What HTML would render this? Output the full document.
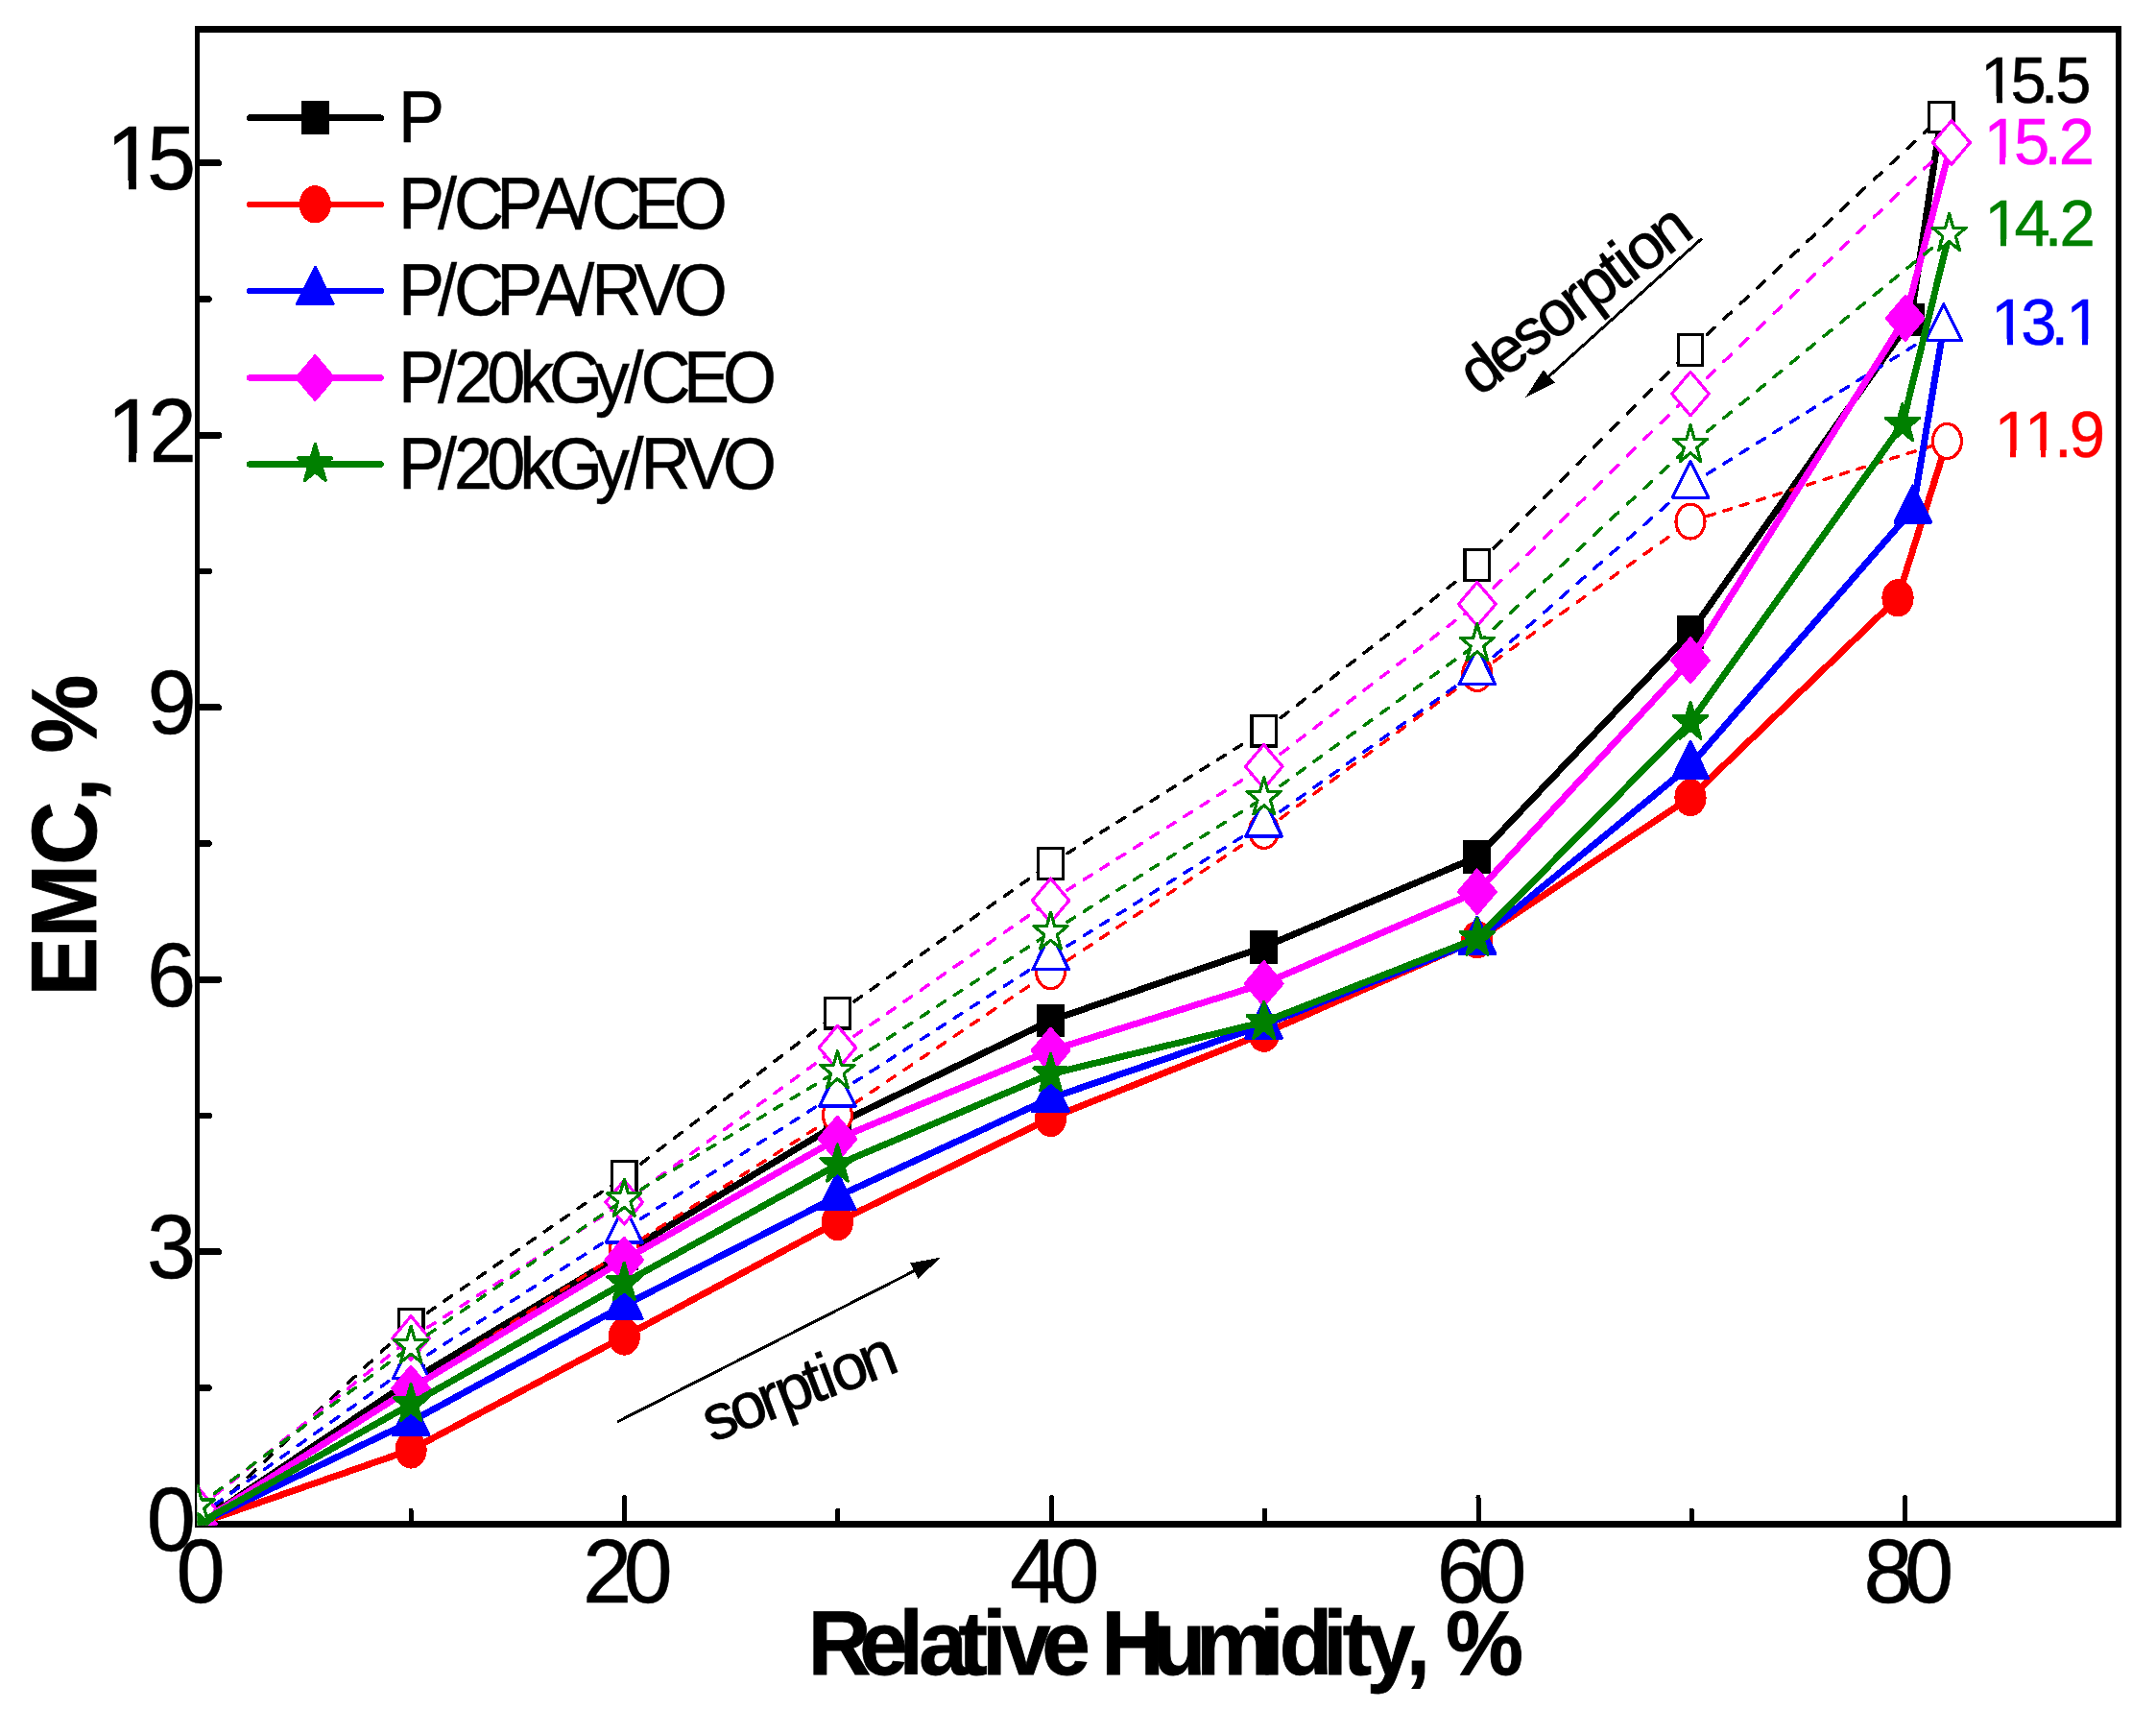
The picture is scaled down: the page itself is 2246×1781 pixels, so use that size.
<!DOCTYPE html>
<html lang="en"><head><meta charset="utf-8"><title>EMC vs Relative Humidity</title>
<style>html,body{margin:0;padding:0;background:#fff}body{width:2246px;height:1781px;overflow:hidden}svg{display:block}text{white-space:pre}</style>
</head><body>
<svg shape-rendering="crispEdges" width="2246" height="1781" viewBox="0 0 2246 1781" font-family="'Liberation Sans', sans-serif">
<rect width="2246" height="1781" fill="#fff"/>
<defs><clipPath id="cp"><rect x="205.3" y="30.5" width="2001.7" height="1558.3"/></clipPath></defs>
<g stroke="#000" stroke-linecap="round" fill="none">
<path d="M205.6 27.1 V1590.7" stroke-width="4.8" stroke-linecap="butt"/>
<path d="M2207 27.1 V1590.7" stroke-width="5.4" stroke-linecap="butt"/>
<path d="M203.2 30.5 H2209.7" stroke-width="6.8" stroke-linecap="butt"/>
<path d="M203.2 1587.3 H2209.7" stroke-width="6.8" stroke-linecap="butt"/>
<path d="M207.6 1445.55 H217.6" stroke-width="6.8"/>
<path d="M207.6 1303.8 H227.8" stroke-width="6.8"/>
<path d="M207.6 1162.05 H217.6" stroke-width="6.8"/>
<path d="M207.6 1020.3 H227.8" stroke-width="6.8"/>
<path d="M207.6 878.55 H217.6" stroke-width="6.8"/>
<path d="M207.6 736.8 H227.8" stroke-width="6.8"/>
<path d="M207.6 595.05 H217.6" stroke-width="6.8"/>
<path d="M207.6 453.3 H227.8" stroke-width="6.8"/>
<path d="M207.6 311.55 H217.6" stroke-width="6.8"/>
<path d="M207.6 169.8 H227.8" stroke-width="6.8"/>
<path d="M428 1587.3 V1573" stroke-width="5"/>
<path d="M650.4 1587.3 V1559.5" stroke-width="5"/>
<path d="M872.8 1587.3 V1573" stroke-width="5"/>
<path d="M1095.2 1587.3 V1559.5" stroke-width="5"/>
<path d="M1317.6 1587.3 V1573" stroke-width="5"/>
<path d="M1540 1587.3 V1559.5" stroke-width="5"/>
<path d="M1762.4 1587.3 V1573" stroke-width="5"/>
<path d="M1984.8 1587.3 V1559.5" stroke-width="5"/>
</g>
<g clip-path="url(#cp)">
<polyline points="205.95,1587.3 428.1,1437.99 650.25,1305.22 872.4,1170.55 1094.55,1062.92 1316.7,986.28 1538.85,892.63 1761,658.84 1990.36,333.1 2022.2,122" fill="none" stroke="#000000" stroke-width="7" stroke-linejoin="round"/>
<rect x="193.15" y="1571.5" width="25.6" height="31.6" fill="#000000" stroke="#000000" stroke-width="3.2" stroke-linejoin="miter"/>
<rect x="415.3" y="1422.19" width="25.6" height="31.6" fill="#000000" stroke="#000000" stroke-width="3.2" stroke-linejoin="miter"/>
<rect x="637.45" y="1289.42" width="25.6" height="31.6" fill="#000000" stroke="#000000" stroke-width="3.2" stroke-linejoin="miter"/>
<rect x="859.6" y="1154.75" width="25.6" height="31.6" fill="#000000" stroke="#000000" stroke-width="3.2" stroke-linejoin="miter"/>
<rect x="1081.75" y="1047.12" width="25.6" height="31.6" fill="#000000" stroke="#000000" stroke-width="3.2" stroke-linejoin="miter"/>
<rect x="1303.9" y="970.48" width="25.6" height="31.6" fill="#000000" stroke="#000000" stroke-width="3.2" stroke-linejoin="miter"/>
<rect x="1526.05" y="876.83" width="25.6" height="31.6" fill="#000000" stroke="#000000" stroke-width="3.2" stroke-linejoin="miter"/>
<rect x="1748.2" y="643.04" width="25.6" height="31.6" fill="#000000" stroke="#000000" stroke-width="3.2" stroke-linejoin="miter"/>
<rect x="1977.56" y="317.3" width="25.6" height="31.6" fill="#000000" stroke="#000000" stroke-width="3.2" stroke-linejoin="miter"/>
<g fill="none" stroke="#000000" stroke-width="3.5" stroke-linecap="round">
<path d="M1761 364.66 L2022.2 122" stroke-dasharray="10.51 13.24"/>
<path d="M1538.85 588.53 L1761 364.66" stroke-dasharray="10.93 13.77"/>
<path d="M1316.7 761.28 L1538.85 588.53" stroke-dasharray="9.75 12.29"/>
<path d="M1094.55 899.53 L1316.7 761.28" stroke-dasharray="9.07 11.43"/>
<path d="M872.4 1055.26 L1094.55 899.53" stroke-dasharray="9.4 11.85"/>
<path d="M650.25 1225.37 L872.4 1055.26" stroke-dasharray="9.7 12.22"/>
<path d="M428.1 1379.12 L650.25 1225.37" stroke-dasharray="9.36 11.8"/>
<path d="M205.95 1587.3 L428.1 1379.12" stroke-dasharray="10.55 13.29"/>
</g>
<rect x="2009.4" y="106.2" width="25.6" height="31.6" fill="#fff" stroke="#000000" stroke-width="3.2" stroke-linejoin="miter"/>
<rect x="1748.2" y="348.86" width="25.6" height="31.6" fill="#fff" stroke="#000000" stroke-width="3.2" stroke-linejoin="miter"/>
<rect x="1526.05" y="572.73" width="25.6" height="31.6" fill="#fff" stroke="#000000" stroke-width="3.2" stroke-linejoin="miter"/>
<rect x="1303.9" y="745.48" width="25.6" height="31.6" fill="#fff" stroke="#000000" stroke-width="3.2" stroke-linejoin="miter"/>
<rect x="1081.75" y="883.73" width="25.6" height="31.6" fill="#fff" stroke="#000000" stroke-width="3.2" stroke-linejoin="miter"/>
<rect x="859.6" y="1039.46" width="25.6" height="31.6" fill="#fff" stroke="#000000" stroke-width="3.2" stroke-linejoin="miter"/>
<rect x="637.45" y="1209.57" width="25.6" height="31.6" fill="#fff" stroke="#000000" stroke-width="3.2" stroke-linejoin="miter"/>
<rect x="415.3" y="1363.32" width="25.6" height="31.6" fill="#fff" stroke="#000000" stroke-width="3.2" stroke-linejoin="miter"/>
<rect x="193.15" y="1571.5" width="25.6" height="31.6" fill="#fff" stroke="#000000" stroke-width="3.2" stroke-linejoin="miter"/>
<polyline points="205.95,1587.3 428.1,1510 650.25,1392.06 872.4,1272.62 1094.55,1164.51 1316.7,1076.24 1538.85,978.72 1761,830.64 1977.02,622.74 2028.4,459.5" fill="none" stroke="#ff0000" stroke-width="7" stroke-linejoin="round"/>
<ellipse cx="205.95" cy="1587.3" rx="15" ry="18" fill="#ff0000" stroke="#ff0000" stroke-width="3.2" stroke-linejoin="round"/>
<ellipse cx="428.1" cy="1510" rx="15" ry="18" fill="#ff0000" stroke="#ff0000" stroke-width="3.2" stroke-linejoin="round"/>
<ellipse cx="650.25" cy="1392.06" rx="15" ry="18" fill="#ff0000" stroke="#ff0000" stroke-width="3.2" stroke-linejoin="round"/>
<ellipse cx="872.4" cy="1272.62" rx="15" ry="18" fill="#ff0000" stroke="#ff0000" stroke-width="3.2" stroke-linejoin="round"/>
<ellipse cx="1094.55" cy="1164.51" rx="15" ry="18" fill="#ff0000" stroke="#ff0000" stroke-width="3.2" stroke-linejoin="round"/>
<ellipse cx="1316.7" cy="1076.24" rx="15" ry="18" fill="#ff0000" stroke="#ff0000" stroke-width="3.2" stroke-linejoin="round"/>
<ellipse cx="1538.85" cy="978.72" rx="15" ry="18" fill="#ff0000" stroke="#ff0000" stroke-width="3.2" stroke-linejoin="round"/>
<ellipse cx="1761" cy="830.64" rx="15" ry="18" fill="#ff0000" stroke="#ff0000" stroke-width="3.2" stroke-linejoin="round"/>
<ellipse cx="1977.02" cy="622.74" rx="15" ry="18" fill="#ff0000" stroke="#ff0000" stroke-width="3.2" stroke-linejoin="round"/>
<g fill="none" stroke="#ff0000" stroke-width="3.5" stroke-linecap="round">
<path d="M1761 543.07 L2028.4 459.5" stroke-dasharray="8.07 10.16"/>
<path d="M1538.85 701.46 L1761 543.07" stroke-dasharray="9.46 11.91"/>
<path d="M1316.7 865.32 L1538.85 701.46" stroke-dasharray="9.57 12.05"/>
<path d="M1094.55 1011.79 L1316.7 865.32" stroke-dasharray="9.22 11.62"/>
<path d="M872.4 1161.11 L1094.55 1011.79" stroke-dasharray="9.28 11.69"/>
<path d="M650.25 1301.91 L872.4 1161.11" stroke-dasharray="9.12 11.48"/>
<path d="M428.1 1445.83 L650.25 1301.91" stroke-dasharray="9.17 11.56"/>
<path d="M205.95 1584.46 L428.1 1445.83" stroke-dasharray="9.08 11.43"/>
</g>
<ellipse cx="2028.4" cy="459.5" rx="15" ry="18" fill="#fff" stroke="#ff0000" stroke-width="3.2" stroke-linejoin="round"/>
<ellipse cx="1761" cy="543.07" rx="15" ry="18" fill="#fff" stroke="#ff0000" stroke-width="3.2" stroke-linejoin="round"/>
<ellipse cx="1538.85" cy="701.46" rx="15" ry="18" fill="#fff" stroke="#ff0000" stroke-width="3.2" stroke-linejoin="round"/>
<ellipse cx="1316.7" cy="865.32" rx="15" ry="18" fill="#fff" stroke="#ff0000" stroke-width="3.2" stroke-linejoin="round"/>
<ellipse cx="1094.55" cy="1011.79" rx="15" ry="18" fill="#fff" stroke="#ff0000" stroke-width="3.2" stroke-linejoin="round"/>
<ellipse cx="872.4" cy="1161.11" rx="15" ry="18" fill="#fff" stroke="#ff0000" stroke-width="3.2" stroke-linejoin="round"/>
<ellipse cx="650.25" cy="1301.91" rx="15" ry="18" fill="#fff" stroke="#ff0000" stroke-width="3.2" stroke-linejoin="round"/>
<ellipse cx="428.1" cy="1445.83" rx="15" ry="18" fill="#fff" stroke="#ff0000" stroke-width="3.2" stroke-linejoin="round"/>
<ellipse cx="205.95" cy="1584.46" rx="15" ry="18" fill="#fff" stroke="#ff0000" stroke-width="3.2" stroke-linejoin="round"/>
<polyline points="205.95,1587.3 428.1,1480.61 650.25,1359.55 872.4,1246.15 1094.55,1143.81 1316.7,1067.55 1538.85,979.66 1761,797.19 1992.81,530.51 2024.7,341.1" fill="none" stroke="#0000ff" stroke-width="7" stroke-linejoin="round"/>
<polygon points="205.95,1562.9 224.75,1600.9 187.15,1600.9" fill="#0000ff" stroke="#0000ff" stroke-width="3.2" stroke-linejoin="round"/>
<polygon points="428.1,1456.21 446.9,1494.21 409.3,1494.21" fill="#0000ff" stroke="#0000ff" stroke-width="3.2" stroke-linejoin="round"/>
<polygon points="650.25,1335.15 669.05,1373.15 631.45,1373.15" fill="#0000ff" stroke="#0000ff" stroke-width="3.2" stroke-linejoin="round"/>
<polygon points="872.4,1221.75 891.2,1259.75 853.6,1259.75" fill="#0000ff" stroke="#0000ff" stroke-width="3.2" stroke-linejoin="round"/>
<polygon points="1094.55,1119.41 1113.35,1157.41 1075.75,1157.41" fill="#0000ff" stroke="#0000ff" stroke-width="3.2" stroke-linejoin="round"/>
<polygon points="1316.7,1043.15 1335.5,1081.15 1297.9,1081.15" fill="#0000ff" stroke="#0000ff" stroke-width="3.2" stroke-linejoin="round"/>
<polygon points="1538.85,955.26 1557.65,993.26 1520.05,993.26" fill="#0000ff" stroke="#0000ff" stroke-width="3.2" stroke-linejoin="round"/>
<polygon points="1761,772.79 1779.8,810.79 1742.2,810.79" fill="#0000ff" stroke="#0000ff" stroke-width="3.2" stroke-linejoin="round"/>
<polygon points="1992.81,506.11 2011.61,544.11 1974.01,544.11" fill="#0000ff" stroke="#0000ff" stroke-width="3.2" stroke-linejoin="round"/>
<g fill="none" stroke="#0000ff" stroke-width="3.5" stroke-linecap="round">
<path d="M1761 504.52 L2024.7 341.1" stroke-dasharray="9.06 11.41"/>
<path d="M1538.85 698.81 L1761 504.52" stroke-dasharray="10.23 12.89"/>
<path d="M1316.7 857.48 L1538.85 698.81" stroke-dasharray="9.46 11.92"/>
<path d="M1094.55 996.11 L1316.7 857.48" stroke-dasharray="9.08 11.43"/>
<path d="M872.4 1138.42 L1094.55 996.11" stroke-dasharray="9.14 11.52"/>
<path d="M650.25 1280.46 L872.4 1138.42" stroke-dasharray="9.14 11.51"/>
<path d="M428.1 1422.11 L650.25 1280.46" stroke-dasharray="9.13 11.5"/>
<path d="M205.95 1579.74 L428.1 1422.11" stroke-dasharray="9.44 11.89"/>
</g>
<polygon points="2024.7,316.7 2043.5,354.7 2005.9,354.7" fill="#fff" stroke="#0000ff" stroke-width="3.2" stroke-linejoin="round"/>
<polygon points="1761,480.12 1779.8,518.12 1742.2,518.12" fill="#fff" stroke="#0000ff" stroke-width="3.2" stroke-linejoin="round"/>
<polygon points="1538.85,674.41 1557.65,712.41 1520.05,712.41" fill="#fff" stroke="#0000ff" stroke-width="3.2" stroke-linejoin="round"/>
<polygon points="1316.7,833.08 1335.5,871.08 1297.9,871.08" fill="#fff" stroke="#0000ff" stroke-width="3.2" stroke-linejoin="round"/>
<polygon points="1094.55,971.71 1113.35,1009.71 1075.75,1009.71" fill="#fff" stroke="#0000ff" stroke-width="3.2" stroke-linejoin="round"/>
<polygon points="872.4,1114.02 891.2,1152.02 853.6,1152.02" fill="#fff" stroke="#0000ff" stroke-width="3.2" stroke-linejoin="round"/>
<polygon points="650.25,1256.06 669.05,1294.06 631.45,1294.06" fill="#fff" stroke="#0000ff" stroke-width="3.2" stroke-linejoin="round"/>
<polygon points="428.1,1397.71 446.9,1435.71 409.3,1435.71" fill="#fff" stroke="#0000ff" stroke-width="3.2" stroke-linejoin="round"/>
<polygon points="205.95,1555.34 224.75,1593.34 187.15,1593.34" fill="#fff" stroke="#0000ff" stroke-width="3.2" stroke-linejoin="round"/>
<polyline points="205.95,1587.3 428.1,1446.12 650.25,1312.12 872.4,1186.15 1094.55,1094.1 1316.7,1024.46 1538.85,928.82 1761,687.75 1984.8,331.49 2033,148.5" fill="none" stroke="#ff00ff" stroke-width="7" stroke-linejoin="round"/>
<polygon points="205.95,1564.5 225.25,1587.3 205.95,1610.1 186.65,1587.3" fill="#ff00ff" stroke="#ff00ff" stroke-width="3.2" stroke-linejoin="round"/>
<polygon points="428.1,1423.32 447.4,1446.12 428.1,1468.92 408.8,1446.12" fill="#ff00ff" stroke="#ff00ff" stroke-width="3.2" stroke-linejoin="round"/>
<polygon points="650.25,1289.32 669.55,1312.12 650.25,1334.92 630.95,1312.12" fill="#ff00ff" stroke="#ff00ff" stroke-width="3.2" stroke-linejoin="round"/>
<polygon points="872.4,1163.35 891.7,1186.15 872.4,1208.95 853.1,1186.15" fill="#ff00ff" stroke="#ff00ff" stroke-width="3.2" stroke-linejoin="round"/>
<polygon points="1094.55,1071.3 1113.85,1094.1 1094.55,1116.9 1075.25,1094.1" fill="#ff00ff" stroke="#ff00ff" stroke-width="3.2" stroke-linejoin="round"/>
<polygon points="1316.7,1001.66 1336,1024.46 1316.7,1047.26 1297.4,1024.46" fill="#ff00ff" stroke="#ff00ff" stroke-width="3.2" stroke-linejoin="round"/>
<polygon points="1538.85,906.02 1558.15,928.82 1538.85,951.62 1519.55,928.82" fill="#ff00ff" stroke="#ff00ff" stroke-width="3.2" stroke-linejoin="round"/>
<polygon points="1761,664.95 1780.3,687.75 1761,710.55 1741.7,687.75" fill="#ff00ff" stroke="#ff00ff" stroke-width="3.2" stroke-linejoin="round"/>
<polygon points="1984.8,308.69 2004.1,331.49 1984.8,354.29 1965.5,331.49" fill="#ff00ff" stroke="#ff00ff" stroke-width="3.2" stroke-linejoin="round"/>
<g fill="none" stroke="#ff00ff" stroke-width="3.5" stroke-linecap="round">
<path d="M1761 410.11 L2033 148.5" stroke-dasharray="10.68 13.46"/>
<path d="M1538.85 629.16 L1761 410.11" stroke-dasharray="10.81 13.62"/>
<path d="M1316.7 798.32 L1538.85 629.16" stroke-dasharray="9.68 12.19"/>
<path d="M1094.55 937.9 L1316.7 798.32" stroke-dasharray="9.09 11.46"/>
<path d="M872.4 1091.17 L1094.55 937.9" stroke-dasharray="9.36 11.78"/>
<path d="M650.25 1252.11 L872.4 1091.17" stroke-dasharray="9.51 11.98"/>
<path d="M428.1 1393.67 L650.25 1252.11" stroke-dasharray="9.13 11.5"/>
<path d="M205.95 1571.71 L428.1 1393.67" stroke-dasharray="9.87 12.43"/>
</g>
<polygon points="2033,125.7 2052.3,148.5 2033,171.3 2013.7,148.5" fill="#fff" stroke="#ff00ff" stroke-width="3.2" stroke-linejoin="round"/>
<polygon points="1761,387.31 1780.3,410.11 1761,432.91 1741.7,410.11" fill="#fff" stroke="#ff00ff" stroke-width="3.2" stroke-linejoin="round"/>
<polygon points="1538.85,606.36 1558.15,629.16 1538.85,651.96 1519.55,629.16" fill="#fff" stroke="#ff00ff" stroke-width="3.2" stroke-linejoin="round"/>
<polygon points="1316.7,775.52 1336,798.32 1316.7,821.12 1297.4,798.32" fill="#fff" stroke="#ff00ff" stroke-width="3.2" stroke-linejoin="round"/>
<polygon points="1094.55,915.1 1113.85,937.9 1094.55,960.7 1075.25,937.9" fill="#fff" stroke="#ff00ff" stroke-width="3.2" stroke-linejoin="round"/>
<polygon points="872.4,1068.38 891.7,1091.17 872.4,1113.97 853.1,1091.17" fill="#fff" stroke="#ff00ff" stroke-width="3.2" stroke-linejoin="round"/>
<polygon points="650.25,1229.31 669.55,1252.11 650.25,1274.91 630.95,1252.11" fill="#fff" stroke="#ff00ff" stroke-width="3.2" stroke-linejoin="round"/>
<polygon points="428.1,1370.87 447.4,1393.67 428.1,1416.47 408.8,1393.67" fill="#fff" stroke="#ff00ff" stroke-width="3.2" stroke-linejoin="round"/>
<polygon points="205.95,1548.91 225.25,1571.71 205.95,1594.51 186.65,1571.71" fill="#fff" stroke="#ff00ff" stroke-width="3.2" stroke-linejoin="round"/>
<polyline points="205.95,1587.3 428.1,1462.56 650.25,1336.21 872.4,1213.08 1094.55,1118.58 1316.7,1064.43 1538.85,977.21 1761,752.11 1981.91,441.87 2030.6,243.6" fill="none" stroke="#008000" stroke-width="7" stroke-linejoin="round"/>
<polygon points="205.95,1566.3 210.1,1580.81 223.54,1580.81 212.67,1589.78 216.82,1604.29 205.95,1595.32 195.08,1604.29 199.23,1589.78 188.36,1580.81 201.8,1580.81" fill="#008000" stroke="#008000" stroke-width="3.2" stroke-linejoin="round"/>
<polygon points="428.1,1441.56 432.25,1456.07 445.69,1456.07 434.82,1465.04 438.97,1479.55 428.1,1470.58 417.23,1479.55 421.38,1465.04 410.51,1456.07 423.95,1456.07" fill="#008000" stroke="#008000" stroke-width="3.2" stroke-linejoin="round"/>
<polygon points="650.25,1315.21 654.4,1329.72 667.84,1329.72 656.97,1338.69 661.12,1353.2 650.25,1344.24 639.38,1353.2 643.53,1338.69 632.66,1329.72 646.1,1329.72" fill="#008000" stroke="#008000" stroke-width="3.2" stroke-linejoin="round"/>
<polygon points="872.4,1192.08 876.55,1206.59 889.99,1206.59 879.12,1215.56 883.27,1230.07 872.4,1221.1 861.53,1230.07 865.68,1215.56 854.81,1206.59 868.25,1206.59" fill="#008000" stroke="#008000" stroke-width="3.2" stroke-linejoin="round"/>
<polygon points="1094.55,1097.58 1098.7,1112.09 1112.14,1112.09 1101.27,1121.06 1105.42,1135.57 1094.55,1126.6 1083.68,1135.57 1087.83,1121.06 1076.96,1112.09 1090.4,1112.09" fill="#008000" stroke="#008000" stroke-width="3.2" stroke-linejoin="round"/>
<polygon points="1316.7,1043.43 1320.85,1057.94 1334.29,1057.94 1323.42,1066.91 1327.57,1081.42 1316.7,1072.45 1305.83,1081.42 1309.98,1066.91 1299.11,1057.94 1312.55,1057.94" fill="#008000" stroke="#008000" stroke-width="3.2" stroke-linejoin="round"/>
<polygon points="1538.85,956.21 1543,970.72 1556.44,970.72 1545.57,979.69 1549.72,994.2 1538.85,985.23 1527.98,994.2 1532.13,979.69 1521.26,970.72 1534.7,970.72" fill="#008000" stroke="#008000" stroke-width="3.2" stroke-linejoin="round"/>
<polygon points="1761,731.11 1765.15,745.62 1778.59,745.62 1767.72,754.59 1771.87,769.1 1761,760.13 1750.13,769.1 1754.28,754.59 1743.41,745.62 1756.85,745.62" fill="#008000" stroke="#008000" stroke-width="3.2" stroke-linejoin="round"/>
<polygon points="1981.91,420.87 1986.06,435.38 1999.5,435.38 1988.63,444.34 1992.78,458.85 1981.91,449.89 1971.03,458.85 1975.19,444.34 1964.31,435.38 1977.75,435.38" fill="#008000" stroke="#008000" stroke-width="3.2" stroke-linejoin="round"/>
<g fill="none" stroke="#008000" stroke-width="3.5" stroke-linecap="round">
<path d="M1761 463.79 L2030.6 243.6" stroke-dasharray="9.94 12.52"/>
<path d="M1538.85 670.65 L1761 463.79" stroke-dasharray="10.52 13.25"/>
<path d="M1316.7 830.83 L1538.85 670.65" stroke-dasharray="9.49 11.96"/>
<path d="M1094.55 971.16 L1316.7 830.83" stroke-dasharray="9.11 11.47"/>
<path d="M872.4 1115.74 L1094.55 971.16" stroke-dasharray="9.19 11.57"/>
<path d="M650.25 1249.27 L872.4 1115.74" stroke-dasharray="8.98 11.32"/>
<path d="M428.1 1402.08 L650.25 1249.27" stroke-dasharray="9.35 11.77"/>
<path d="M205.95 1568.4 L428.1 1402.08" stroke-dasharray="9.62 12.12"/>
</g>
<polygon points="2030.6,222.6 2034.75,237.11 2048.19,237.11 2037.32,246.08 2041.47,260.59 2030.6,251.62 2019.73,260.59 2023.88,246.08 2013.01,237.11 2026.45,237.11" fill="#fff" stroke="#008000" stroke-width="3.2" stroke-linejoin="round"/>
<polygon points="1761,442.79 1765.15,457.3 1778.59,457.3 1767.72,466.27 1771.87,480.78 1761,471.81 1750.13,480.78 1754.28,466.27 1743.41,457.3 1756.85,457.3" fill="#fff" stroke="#008000" stroke-width="3.2" stroke-linejoin="round"/>
<polygon points="1538.85,649.65 1543,664.16 1556.44,664.16 1545.57,673.13 1549.72,687.64 1538.85,678.67 1527.98,687.64 1532.13,673.13 1521.26,664.16 1534.7,664.16" fill="#fff" stroke="#008000" stroke-width="3.2" stroke-linejoin="round"/>
<polygon points="1316.7,809.83 1320.85,824.34 1334.29,824.34 1323.42,833.31 1327.57,847.82 1316.7,838.85 1305.83,847.82 1309.98,833.31 1299.11,824.34 1312.55,824.34" fill="#fff" stroke="#008000" stroke-width="3.2" stroke-linejoin="round"/>
<polygon points="1094.55,950.16 1098.7,964.67 1112.14,964.67 1101.27,973.64 1105.42,988.15 1094.55,979.18 1083.68,988.15 1087.83,973.64 1076.96,964.67 1090.4,964.67" fill="#fff" stroke="#008000" stroke-width="3.2" stroke-linejoin="round"/>
<polygon points="872.4,1094.74 876.55,1109.26 889.99,1109.26 879.12,1118.22 883.27,1132.73 872.4,1123.77 861.53,1132.73 865.68,1118.22 854.81,1109.26 868.25,1109.26" fill="#fff" stroke="#008000" stroke-width="3.2" stroke-linejoin="round"/>
<polygon points="650.25,1228.27 654.4,1242.78 667.84,1242.78 656.97,1251.75 661.12,1266.26 650.25,1257.3 639.38,1266.26 643.53,1251.75 632.66,1242.78 646.1,1242.78" fill="#fff" stroke="#008000" stroke-width="3.2" stroke-linejoin="round"/>
<polygon points="428.1,1381.08 432.25,1395.59 445.69,1395.59 434.82,1404.56 438.97,1419.07 428.1,1410.1 417.23,1419.07 421.38,1404.56 410.51,1395.59 423.95,1395.59" fill="#fff" stroke="#008000" stroke-width="3.2" stroke-linejoin="round"/>
<polygon points="205.95,1547.4 210.1,1561.91 223.54,1561.91 212.67,1570.88 216.82,1585.39 205.95,1576.42 195.08,1585.39 199.23,1570.88 188.36,1561.91 201.8,1561.91" fill="#fff" stroke="#008000" stroke-width="3.2" stroke-linejoin="round"/>
</g>
<path d="M260.2 122.7 H396.7" stroke="#000000" stroke-width="6.6" stroke-linecap="round" fill="none"/>
<rect x="315.5" y="106.9" width="25.6" height="31.6" fill="#000000" stroke="#000000" stroke-width="3.2" stroke-linejoin="miter"/>
<g transform="translate(414.99,148) scale(1,1.05)"><text x="0" y="0" font-size="72" fill="#000" stroke="#000" stroke-width="0.5">P</text></g>
<path d="M260.2 212.8 H396.7" stroke="#ff0000" stroke-width="6.6" stroke-linecap="round" fill="none"/>
<ellipse cx="328.3" cy="212.8" rx="15" ry="18" fill="#ff0000" stroke="#ff0000" stroke-width="3.2" stroke-linejoin="round"/>
<g transform="translate(414.99,238.1) scale(1,1.05)"><text x="0 40.96 58.03 102.38 143.34 184.31 201.37 245.72 286.69" y="0" font-size="72" fill="#000" stroke="#000" stroke-width="0.5">P/CPA/CEO</text></g>
<path d="M260.2 302.9 H396.7" stroke="#0000ff" stroke-width="6.6" stroke-linecap="round" fill="none"/>
<polygon points="328.3,278.5 347.1,316.5 309.5,316.5" fill="#0000ff" stroke="#0000ff" stroke-width="3.2" stroke-linejoin="round"/>
<g transform="translate(414.99,328.2) scale(1,1.05)"><text x="0 40.96 58.03 102.38 143.34 184.31 201.37 245.72 286.69" y="0" font-size="72" fill="#000" stroke="#000" stroke-width="0.5">P/CPA/RVO</text></g>
<path d="M260.2 393.5 H396.7" stroke="#ff00ff" stroke-width="6.6" stroke-linecap="round" fill="none"/>
<polygon points="328.3,370.7 347.6,393.5 328.3,416.3 309,393.5" fill="#ff00ff" stroke="#ff00ff" stroke-width="3.2" stroke-linejoin="round"/>
<g transform="translate(414.99,418.8) scale(1,1.05)"><text x="0 40.96 58.03 92.18 126.34 157.05 204.82 235.53 252.59 296.94 337.91" y="0" font-size="72" fill="#000" stroke="#000" stroke-width="0.5">P/20kGy/CEO</text></g>
<path d="M260.2 483.5 H396.7" stroke="#008000" stroke-width="6.6" stroke-linecap="round" fill="none"/>
<polygon points="328.3,462.5 332.45,477.01 345.89,477.01 335.02,485.98 339.17,500.49 328.3,491.52 317.43,500.49 321.58,485.98 310.71,477.01 324.15,477.01" fill="#008000" stroke="#008000" stroke-width="3.2" stroke-linejoin="round"/>
<g transform="translate(414.99,508.8) scale(1,1.05)"><text x="0 40.96 58.03 92.18 126.34 157.05 204.82 235.53 252.59 296.94 337.91" y="0" font-size="72" fill="#000" stroke="#000" stroke-width="0.5">P/20kGy/RVO</text></g>
<g transform="translate(152.63,1614.9) scale(1,1.03)"><text x="0" y="0" font-size="92" fill="#000" stroke="#000" stroke-width="0.5">0</text></g>
<g transform="translate(153.08,1331.4) scale(1,1.03)"><text x="0" y="0" font-size="92" fill="#000" stroke="#000" stroke-width="0.5">3</text></g>
<g transform="translate(153.08,1047.9) scale(1,1.03)"><text x="0" y="0" font-size="92" fill="#000" stroke="#000" stroke-width="0.5">6</text></g>
<g transform="translate(153.39,764.4) scale(1,1.03)"><text x="0" y="0" font-size="92" fill="#000" stroke="#000" stroke-width="0.5">9</text></g>
<g transform="translate(111.19,480.9) scale(1,1.03)"><text x="0 42.47" y="0" font-size="92" fill="#000" stroke="#000" stroke-width="0.5">12</text><rect x="4.94" y="-8.98" width="18.19" height="10.33" fill="#fff"/><rect x="31.27" y="-8.98" width="17.47" height="10.33" fill="#fff"/></g>
<g transform="translate(110.43,197.4) scale(1,1.03)"><text x="0 42.47" y="0" font-size="92" fill="#000" stroke="#000" stroke-width="0.5">15</text><rect x="4.94" y="-8.98" width="18.19" height="10.33" fill="#fff"/><rect x="31.27" y="-8.98" width="17.47" height="10.33" fill="#fff"/></g>
<g transform="translate(183.52,1669.3) scale(1,1.03)"><text x="0" y="0" font-size="92" fill="#000" stroke="#000" stroke-width="0.5">0</text></g>
<g transform="translate(607.08,1669.3) scale(1,1.03)"><text x="0 42.47" y="0" font-size="92" fill="#000" stroke="#000" stroke-width="0.5">20</text></g>
<g transform="translate(1051.88,1669.3) scale(1,1.03)"><text x="0 42.47" y="0" font-size="92" fill="#000" stroke="#000" stroke-width="0.5">40</text></g>
<g transform="translate(1496.68,1669.3) scale(1,1.03)"><text x="0 42.47" y="0" font-size="92" fill="#000" stroke="#000" stroke-width="0.5">60</text></g>
<g transform="translate(1941.48,1669.3) scale(1,1.03)"><text x="0 42.47" y="0" font-size="92" fill="#000" stroke="#000" stroke-width="0.5">80</text></g>
<g transform="translate(841.71,1744.2) scale(1,1.03)"><text x="0 53.63 94.92 115.55 156.85 181.58 202.21 243.51 284.81 305.44 359.06 404.42 470.45 491.08 536.43 557.07 581.79 623.09 643.72 664.35" y="0" font-size="91" font-weight="bold" fill="#000" stroke="#000" stroke-width="0.8">Relative Humidity, %</text></g>
<g transform="translate(100.1,1037.55) rotate(-90) scale(1,1.05)"><text x="0 60.75 136.62 202.4 227.7 253" y="0" font-size="92" font-weight="bold" fill="#000" stroke="#000" stroke-width="0.8">EMC, %</text></g>
<g transform="translate(2063.1,106.7) scale(1,1.02)"><text x="0 31.3 62.6 78.24" y="0" font-size="67" fill="#000000" stroke="#000000" stroke-width="0.5">15.5</text><rect x="3.6" y="-6.54" width="13.25" height="7.52" fill="#fff"/><rect x="22.77" y="-6.54" width="12.73" height="7.52" fill="#fff"/></g>
<g transform="translate(2066.6,171) scale(1,1.02)"><text x="0 31.3 62.6 78.24" y="0" font-size="67" fill="#ff00ff" stroke="#ff00ff" stroke-width="0.5">15.2</text><rect x="3.6" y="-6.54" width="13.25" height="7.52" fill="#fff"/><rect x="22.77" y="-6.54" width="12.73" height="7.52" fill="#fff"/></g>
<g transform="translate(2067.2,256) scale(1,1.02)"><text x="0 31.3 62.6 78.24" y="0" font-size="67" fill="#008000" stroke="#008000" stroke-width="0.5">14.2</text><rect x="3.6" y="-6.54" width="13.25" height="7.52" fill="#fff"/><rect x="22.77" y="-6.54" width="12.73" height="7.52" fill="#fff"/></g>
<g transform="translate(2073.9,359.3) scale(1,1.02)"><text x="0 31.3 62.6 78.24" y="0" font-size="67" fill="#0000ff" stroke="#0000ff" stroke-width="0.5">13.1</text><rect x="3.6" y="-6.54" width="13.25" height="7.52" fill="#fff"/><rect x="22.77" y="-6.54" width="12.73" height="7.52" fill="#fff"/><rect x="81.84" y="-6.54" width="13.25" height="7.52" fill="#fff"/><rect x="101.01" y="-6.54" width="12.73" height="7.52" fill="#fff"/></g>
<g transform="translate(2077.4,475.7) scale(1,1.02)"><text x="0 31.3 62.6 78.24" y="0" font-size="67" fill="#ff0000" stroke="#ff0000" stroke-width="0.5">11.9</text><rect x="3.6" y="-6.54" width="13.25" height="7.52" fill="#fff"/><rect x="22.77" y="-6.54" width="12.73" height="7.52" fill="#fff"/><rect x="34.9" y="-6.54" width="13.25" height="7.52" fill="#fff"/><rect x="54.07" y="-6.54" width="12.73" height="7.52" fill="#fff"/></g>
<path d="M643.2 1480.9 L954.94 1322.39" stroke="#000" stroke-width="3" fill="none"/>
<polygon points="979.9,1309.7 956.44,1331.95 948.1,1315.55" fill="#000"/>
<path d="M1772.9 248.4 L1611.39 393.92" stroke="#000" stroke-width="3" fill="none"/>
<polygon points="1589.1,414 1607.66,385.3 1619.57,398.52" fill="#000"/>
<g transform="translate(741.8,1502.5) rotate(-20.9)"><text x="0 28.98 61.21 80.51 112.74 128.84 141.72 173.95" y="0" font-size="67" fill="#000" stroke="#000" stroke-width="0.8">sorption</text></g>
<g transform="translate(1540.8,414) rotate(-36.8)"><text x="0 33.16 66.33 96.14 129.31 149.16 182.33 198.89 212.14 245.3" y="0" font-size="67" fill="#000" stroke="#000" stroke-width="0.8">desorption</text></g>
</svg>
</body></html>
